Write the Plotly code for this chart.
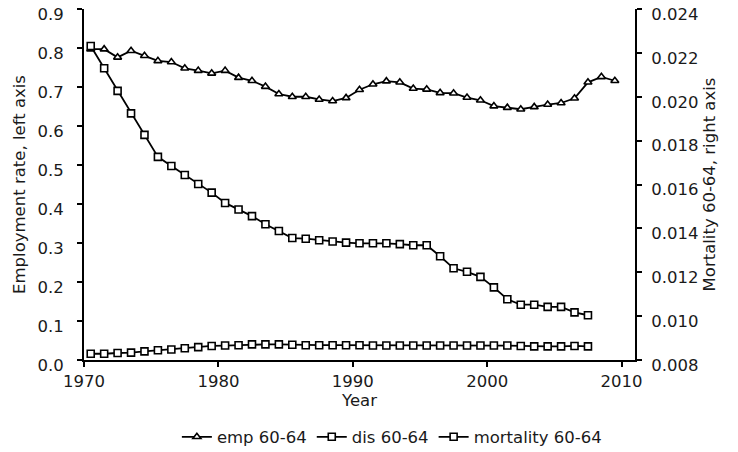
import plotly.graph_objects as go

# ---- data ----
emp_years = list(range(1970, 2010))
emp = [0.797, 0.797, 0.776, 0.793, 0.780, 0.767, 0.764, 0.748, 0.742, 0.735,
       0.742, 0.724, 0.716, 0.701, 0.682, 0.675, 0.675, 0.668, 0.664, 0.672,
       0.693, 0.707, 0.715, 0.712, 0.696, 0.694, 0.685, 0.684, 0.673, 0.666,
       0.651, 0.647, 0.643, 0.649, 0.655, 0.659, 0.671, 0.712, 0.726, 0.716]

dm_years = list(range(1970, 2008))
dis = [0.016, 0.016, 0.018, 0.019, 0.022, 0.025, 0.027, 0.030, 0.033, 0.036,
       0.037, 0.038, 0.040, 0.040, 0.040, 0.039, 0.038, 0.038, 0.038, 0.038,
       0.038, 0.037, 0.037, 0.037, 0.037, 0.037, 0.037, 0.037, 0.037, 0.037,
       0.037, 0.037, 0.036, 0.035, 0.035, 0.035, 0.036, 0.035]
mortality = [0.02231, 0.02130, 0.02027, 0.01924, 0.01826, 0.01726, 0.01684, 0.01643,
             0.01602, 0.01563, 0.01516, 0.01486, 0.01456, 0.01419, 0.01388, 0.01356,
             0.01353, 0.01346, 0.01340, 0.01335, 0.01332, 0.01332, 0.01332, 0.01328,
             0.01323, 0.01323, 0.01273, 0.01218, 0.01202, 0.01179, 0.01131, 0.01077,
             0.01052, 0.01052, 0.01042, 0.01042, 0.01017, 0.01004]

x_ticks = [1970, 1980, 1990, 2000, 2010]
left_ticks = [0.0, 0.1, 0.2, 0.3, 0.4, 0.5, 0.6, 0.7, 0.8, 0.9]
right_ticks = [0.008, 0.010, 0.012, 0.014, 0.016, 0.018, 0.020, 0.022, 0.024]

MID = 0.5  # values plotted at mid-year
FONT = "DejaVu Sans"
FS = 16.5
TXT = "#1a1a1a"

line = dict(color="black", width=1.8)

fig = go.Figure()
fig.add_trace(go.Scatter(
    x=[y + MID for y in emp_years], y=emp, name="emp 60-64", mode="lines+markers",
    line=line,
    marker=dict(symbol="triangle-up", size=7, color="white",
                line=dict(color="black", width=1.6))))
fig.add_trace(go.Scatter(
    x=[y + MID for y in dm_years], y=dis, name="dis 60-64", mode="lines+markers",
    line=line,
    marker=dict(symbol="square", size=7, color="white",
                line=dict(color="black", width=1.6))))
fig.add_trace(go.Scatter(
    x=[y + MID for y in dm_years], y=mortality, name="mortality 60-64",
    mode="lines+markers", yaxis="y2",
    line=line,
    marker=dict(symbol="square", size=7, color="white",
                line=dict(color="black", width=1.6))))

axis_common = dict(showgrid=False, zeroline=False, showline=True, linecolor="black",
                   linewidth=2, ticks="outside", ticklen=5, tickwidth=1.5,
                   tickcolor="black", automargin=False, ticklabeloverflow="allow",
                   tickfont=dict(family=FONT, size=FS, color=TXT))

fig.update_layout(
    width=738, height=452,
    margin=dict(l=84, r=103, t=9, b=92, autoexpand=False),
    paper_bgcolor="white", plot_bgcolor="white",
    font=dict(family=FONT, size=FS, color=TXT),
    showlegend=True,
    legend=dict(orientation="h", xref="container", yref="container",
                x=0.531, xanchor="center", y=0.033, yanchor="middle",
                font=dict(family=FONT, size=FS, color=TXT),
                itemwidth=30, tracegroupgap=0, traceorder="normal"),
    xaxis=dict(range=[1970, 2011], tickvals=x_ticks,
               title=dict(text="Year", standoff=4, font=dict(family=FONT, size=FS)),
               **axis_common),
    yaxis=dict(range=[0, 0.9], tickvals=left_ticks, tickformat=".1f",
               ticklabelstandoff=10, ticklabelshift=5,
               title=dict(text="Employment rate, left axis", standoff=8,
                          font=dict(family=FONT, size=FS)),
               **axis_common),
    yaxis2=dict(range=[0.008, 0.024], tickvals=right_ticks, tickformat=".3f",
                overlaying="y", side="right", anchor="x",
                ticklabelstandoff=6, ticklabelshift=5,
                title=dict(text="Mortality 60-64, right axis", standoff=6,
                           font=dict(family=FONT, size=FS)),
                **axis_common),
)

fig.write_html("out.html", config={"displayModeBar": False},
               post_script="document.body.style.margin='0';document.body.style.overflow='hidden';")
